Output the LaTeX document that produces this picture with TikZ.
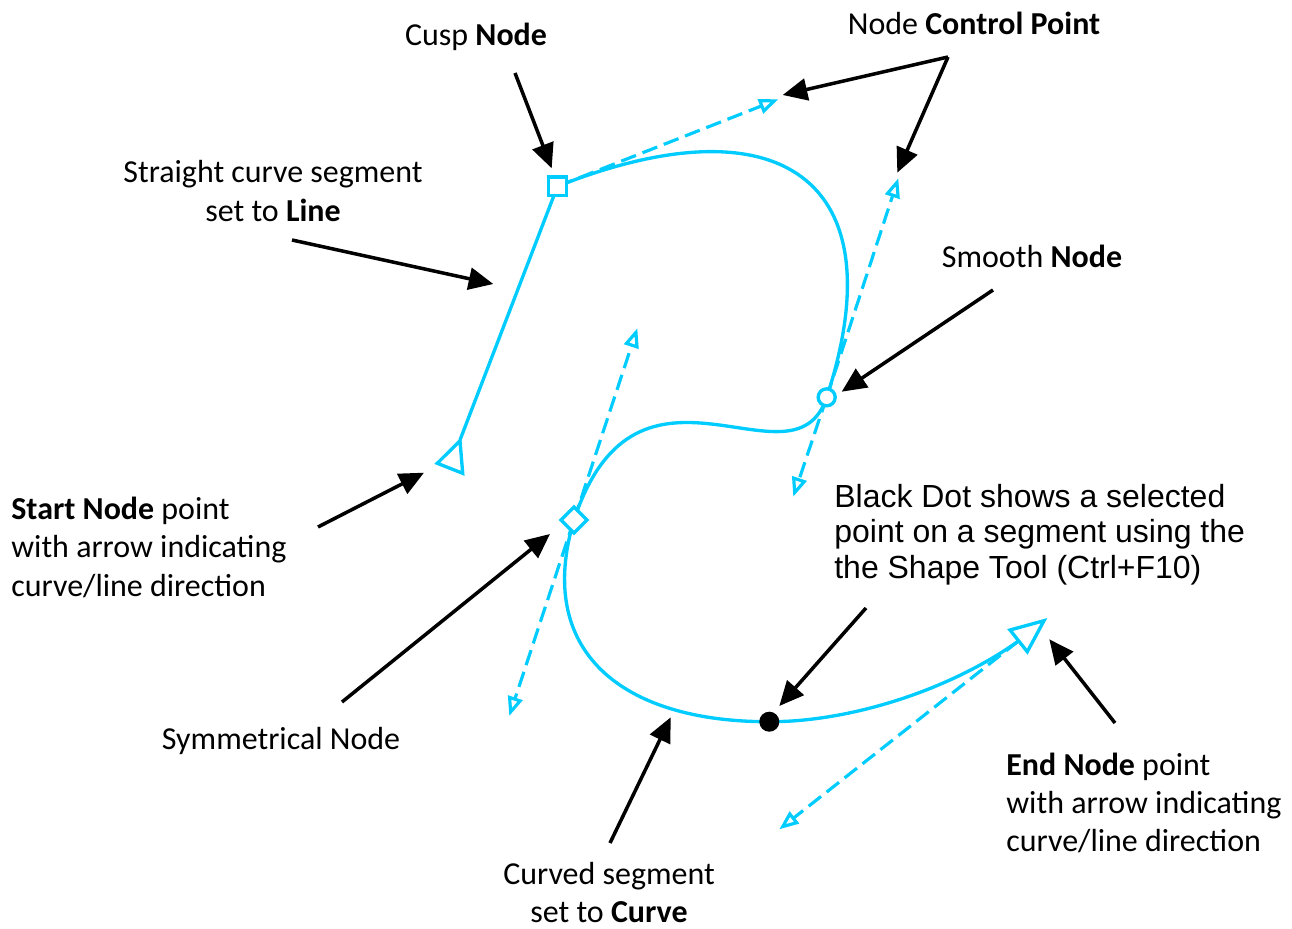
\documentclass[tikz,border=0pt]{standalone}
\usepackage{fontspec}
\setmainfont{Carlito}
\newfontfamily\arialfont{Liberation Sans}
\usetikzlibrary{arrows.meta}
\definecolor{cdcyan}{RGB}{0,204,255}
\begin{document}
\begin{tikzpicture}[x=0.02cm,y=-0.02cm,
  curveline/.style={draw=cdcyan,line width=1.9pt},
  handle/.style={draw=cdcyan,line width=1.8pt,dash pattern=on 9pt off 4pt,-{Triangle[open,length=11pt,width=8.5pt]}},
  callout/.style={draw=black,line width=2pt,-{Triangle[length=14pt,width=12.5pt]}},
  marker/.style={draw=cdcyan,line width=1.9pt,fill=white,inner sep=0pt},
  lbl/.style={inner sep=0pt,font=\fontsize{18.2pt}{21.9pt}\selectfont},
  lblarial/.style={inner sep=0pt,font=\arialfont\fontsize{18.2pt}{20.2pt}\selectfont}]
\useasboundingbox (0,0) rectangle (1292,929);
% node positions
\coordinate (pstart) at (460,440);
\coordinate (pcusp) at (557.5,186.3);
\coordinate (psmooth) at (826.7,397.3);
\coordinate (psym) at (574,520);
\coordinate (pdot) at (769.3,721.7);
\coordinate (pend) at (1018.5,641);
% control point tips
\coordinate (hcusp) at (778.3,99.3);
\coordinate (hsmoothup) at (898.3,178.3);
\coordinate (hsmoothdn) at (793.3,496.7);
\coordinate (hsymup) at (637.3,328.3);
\coordinate (hsymdn) at (509.3,716);
\coordinate (hend) at (779.3,829.3);
% path
\draw[curveline] (pstart) -- (pcusp);
\draw[curveline] (pcusp) .. controls (hcusp) and (hsmoothup) .. (psmooth);
\draw[curveline] (psmooth) .. controls (hsmoothdn) and (hsymup) .. (psym);
\draw[curveline] (psym) .. controls (535,650) and (620,722) .. (pdot);
\draw[curveline] (pdot) .. controls (850,722) and (950,690) .. (pend);
% handles
\draw[handle] (pcusp) -- (hcusp);
\draw[handle] (psmooth) -- (hsmoothup);
\draw[handle] (psmooth) -- (hsmoothdn);
\draw[handle] (psym) -- (hsymup);
\draw[handle] (psym) -- (hsymdn);
\draw[handle] (pend) -- (hend);
% markers
\draw[curveline,fill=white,line join=miter] (437.3,463.3) -- (460,440.7) -- (462.7,473.3) -- cycle;
\draw[curveline,fill=white,line join=miter] (1010,630) -- (1044,620.7) -- (1027.3,651.7) -- cycle;
\node[marker,rectangle,minimum size=10.6pt] (cusp) at (pcusp) {};
\node[marker,circle,minimum size=9.7pt] (smooth) at (psmooth) {};
\node[marker,rectangle,rotate=45,minimum size=10.5pt] (sym) at (psym) {};
\node[circle,fill=black,inner sep=0pt,minimum size=11.4pt] (dot) at (pdot) {};
% labels
\node[lbl,anchor=base] (lcusp) at (476,46) {Cusp \textbf{Node}};
\node[lbl,anchor=base] (lctrl) at (974,34.5) {Node \textbf{Control Point}};
\node[lbl,anchor=base] (lstraight) at (273,183) {\begin{tabular}[t]{@{}c@{}}Straight curve segment\\set to \textbf{Line}\end{tabular}};
\node[lbl,anchor=base] (lsmooth) at (1032,267.5) {Smooth \textbf{Node}};
\node[lbl,anchor=base west] (lstart) at (11,519.5) {\begin{tabular}[t]{@{}l@{}}\textbf{Start Node} point\\with arrow indicating\\curve/line direction\end{tabular}};
\node[lblarial,anchor=base west] (ldot) at (834,507.5) {\begin{tabular}[t]{@{}l@{}}Black Dot shows a selected\\point on a segment using the\\the Shape Tool (Ctrl+F10)\end{tabular}};
\node[lbl,anchor=base] (lsym) at (281,749) {Symmetrical Node};
\node[lbl,anchor=base] (lcurved) at (609,884) {\vtop{\halign{\hfil#\hfil\cr Curved segment\cr set to \textbf{Curve}\cr}}};
\node[lbl,anchor=base west] (lend) at (1006,775) {\begin{tabular}[t]{@{}l@{}}\textbf{End Node} point\\with arrow indicating\\curve/line direction\end{tabular}};
% callout arrows
\coordinate (acusp) at (515,73);
\coordinate (actrl) at (948,57);
\coordinate (astraight) at (292,240);
\coordinate (asmooth) at (993,290);
\coordinate (astart) at (318,527);
\coordinate (asym) at (342,702);
\coordinate (adot) at (866,608);
\coordinate (acurved) at (610,843);
\coordinate (aend) at (1115,723);
\coordinate (tcusp) at (551.7,168.3);
\coordinate (tctrlA) at (782.7,95);
\coordinate (tctrlB) at (897.3,172.7);
\coordinate (tstraight) at (493.3,284);
\coordinate (tsmooth) at (841.7,391.7);
\coordinate (tstart) at (424,472.7);
\coordinate (tsym) at (550,534);
\coordinate (tdot) at (779.3,706);
\coordinate (tcurved) at (670.7,717.3);
\coordinate (tend) at (1049.3,639.3);
\draw[callout] (acusp) -- (tcusp);
\draw[callout] (actrl) -- (tctrlA);
\draw[callout] (actrl) -- (tctrlB);
\draw[callout] (astraight) -- (tstraight);
\draw[callout] (asmooth) -- (tsmooth);
\draw[callout] (astart) -- (tstart);
\draw[callout] (asym) -- (tsym);
\draw[callout] (adot) -- (tdot);
\draw[callout] (acurved) -- (tcurved);
\draw[callout] (aend) -- (tend);
\end{tikzpicture}
\end{document}
